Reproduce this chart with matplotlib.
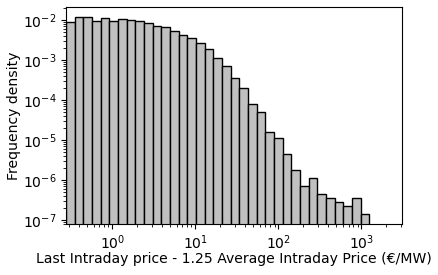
import numpy as np
import matplotlib
matplotlib.use("Agg")
import matplotlib.pyplot as plt

# log-spaced histogram bins (35 bins between ~0.277 and ~1250)
bin_lo = 10**-0.558
bin_hi = 10**3.096
n_bins = 35

# frequency density per bin
density = [9.0e-3, 1.20e-2, 1.20e-2, 9.55e-3, 1.135e-2, 9.55e-3, 1.07e-2,
           1.01e-2, 9.55e-3, 8.5e-3, 7.16e-3, 6.76e-3, 5.37e-3, 4.27e-3,
           3.59e-3, 2.69e-3, 1.91e-3, 1.14e-3, 7.16e-4, 3.59e-4, 2.02e-4,
           8.0e-5, 5.07e-5, 1.60e-5, 1.135e-5, 4.52e-6, 1.80e-6, 7.16e-7,
           1.135e-6, 4.52e-7, 3.59e-7, 2.85e-7, 2.26e-7, 3.59e-7, 1.43e-7]

edges = np.logspace(np.log10(bin_lo), np.log10(bin_hi), n_bins + 1)

fig = plt.figure(figsize=(4.38, 2.75), dpi=100)
ax = fig.add_axes([0.151, 0.1855, 0.767, 0.789])
ax.hist(edges[:-1] * 1.0001, bins=edges, weights=density,
        color='silver', edgecolor='black', linewidth=1)
ax.set_xscale('log')
ax.set_yscale('log')
ax.set_xlim(10**-0.555, 10**3.49)
ax.set_ylim(10**-7.1, 10**-1.67)
ax.tick_params(labelsize=10.1)
ax.set_xlabel("Last Intraday price - 1.25 Average Intraday Price (€/MW)",
              fontsize=10.1, labelpad=0)
ax.set_ylabel("Frequency density", fontsize=10.1, labelpad=1)
fig.savefig("out.png", dpi=100)
